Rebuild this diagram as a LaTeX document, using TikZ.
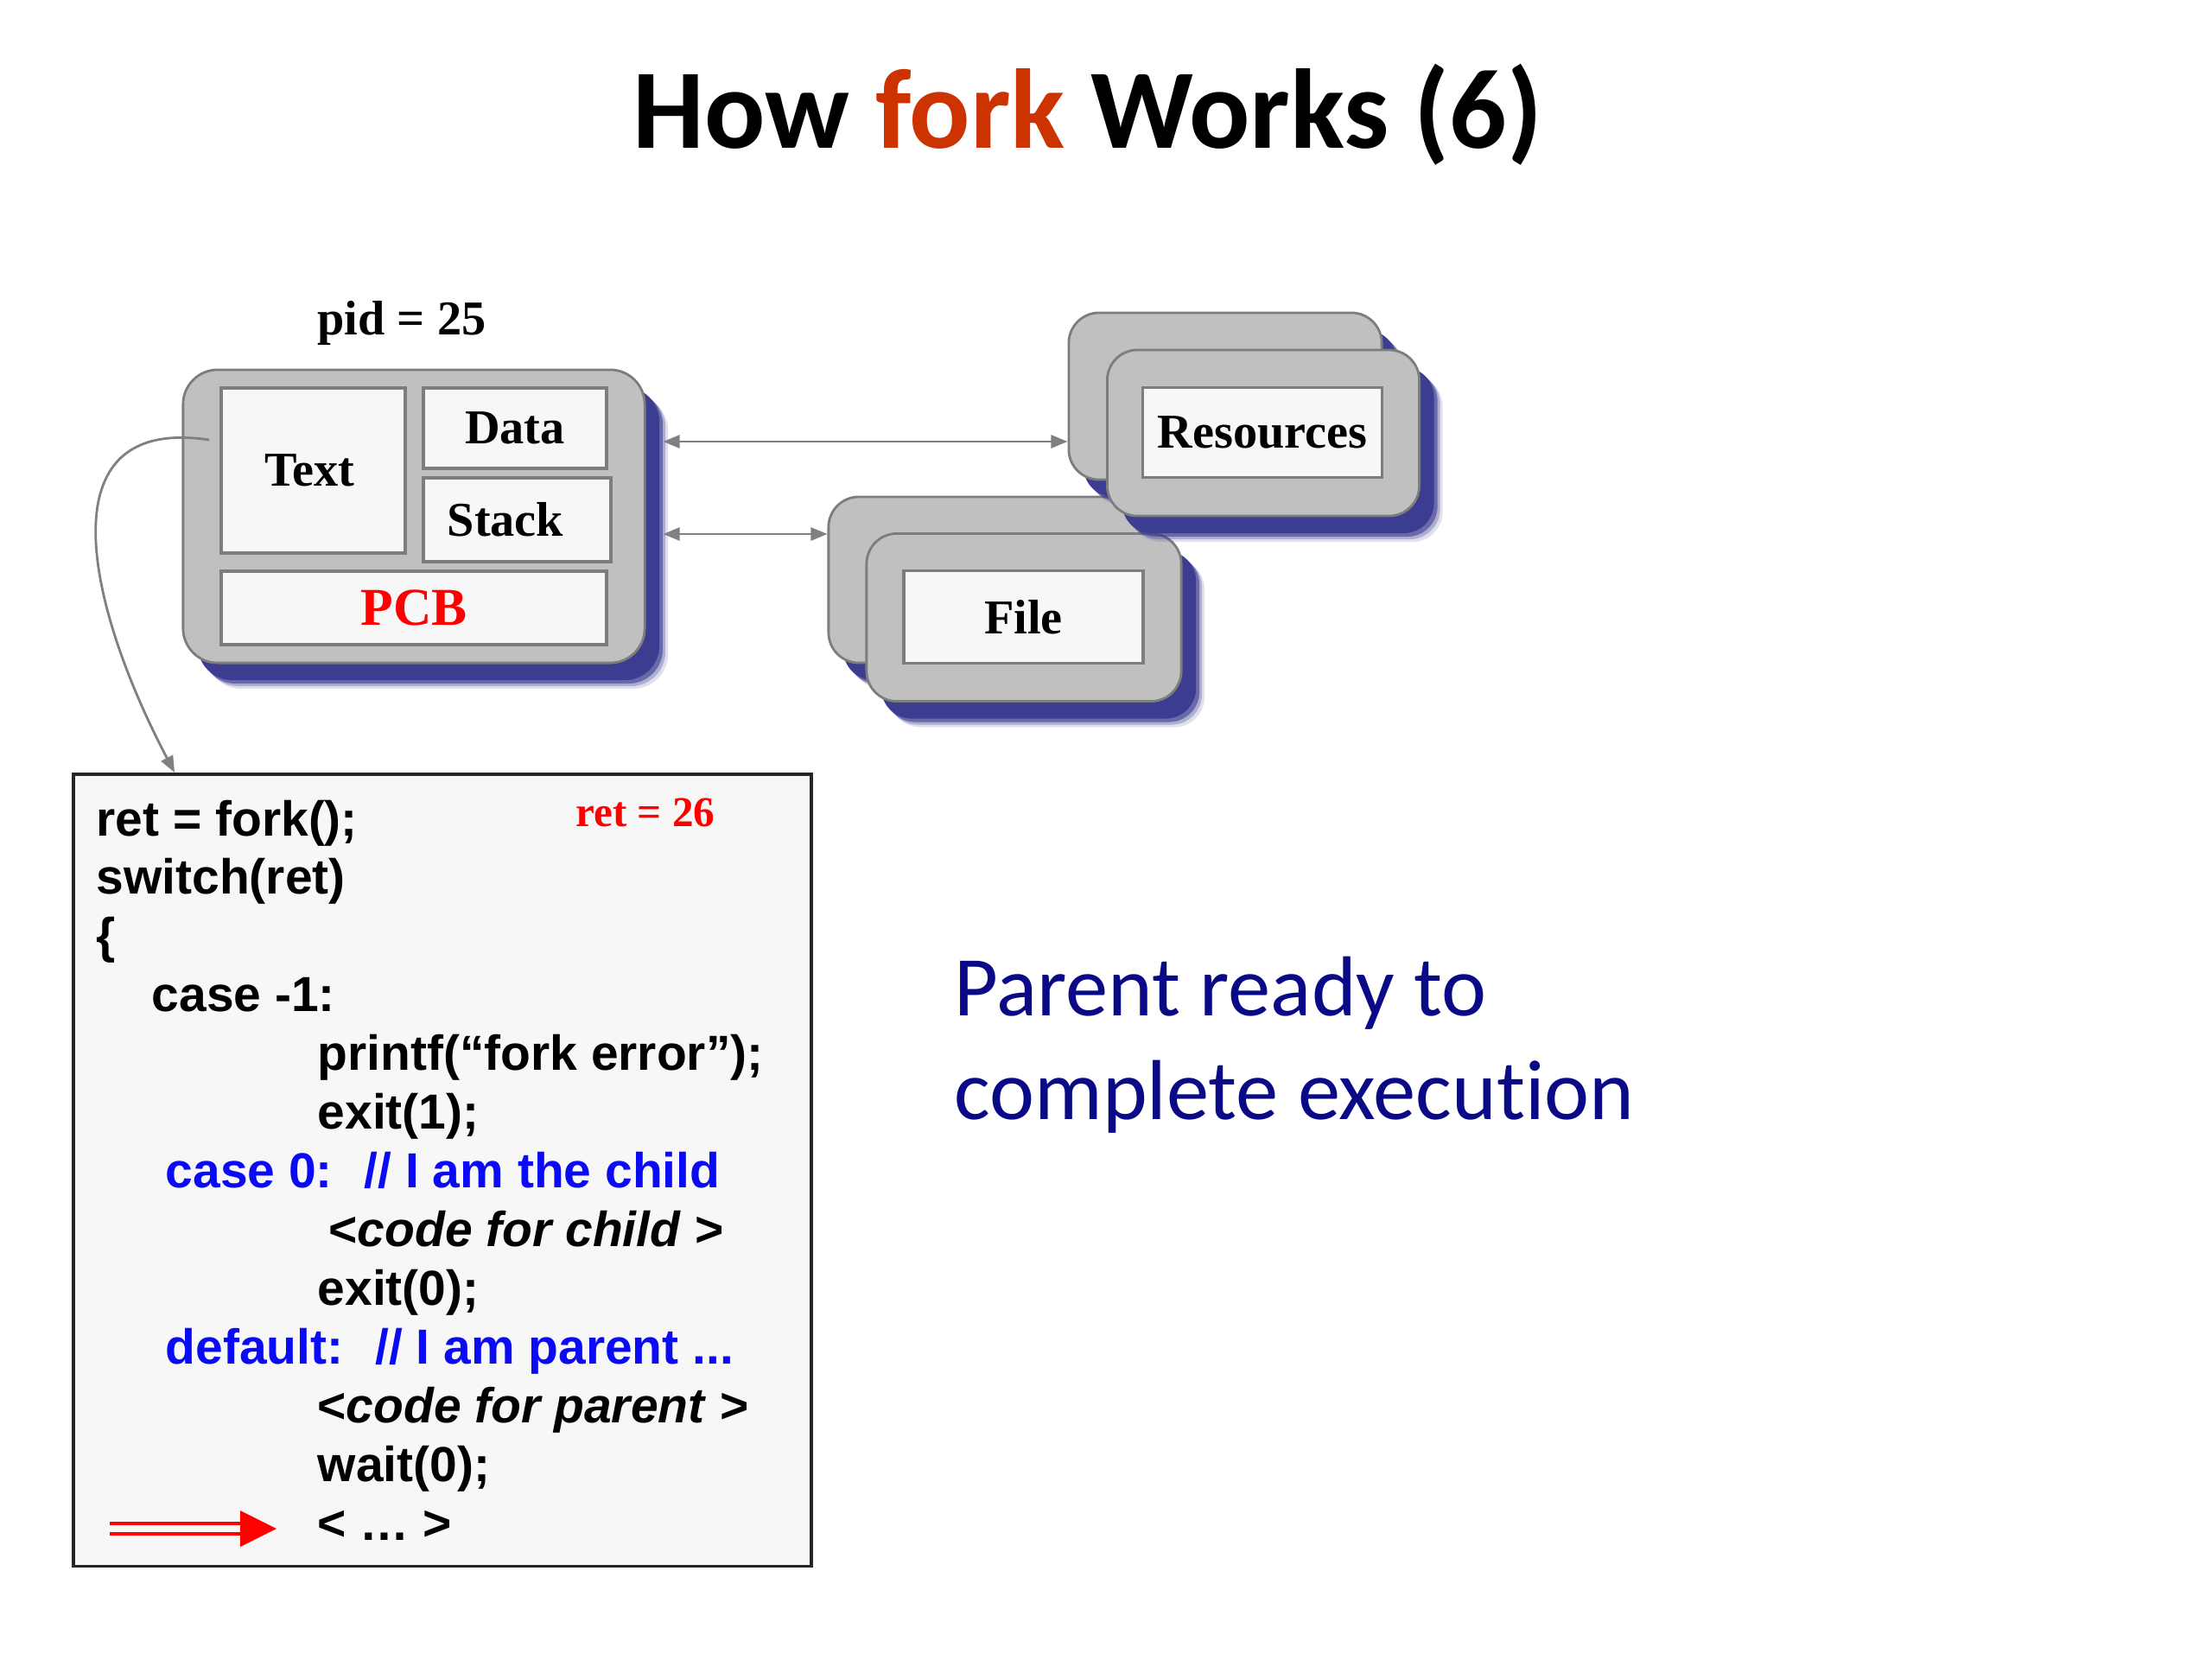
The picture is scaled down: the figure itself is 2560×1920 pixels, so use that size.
\documentclass[tikz,border=0pt]{standalone}
\usepackage{fontspec}
\setmainfont{Liberation Serif}
\newfontfamily\calfont[Ligatures=NoCommon]{Carlito}
\newfontfamily\arfont{Liberation Sans}
\usetikzlibrary{arrows.meta}
\definecolor{forkc}{RGB}{204,51,0}
\definecolor{navyt}{RGB}{10,10,135}
\definecolor{shblue}{RGB}{60,60,145}
\definecolor{boxgray}{RGB}{192,192,192}
\definecolor{edgegray}{RGB}{125,125,125}
\definecolor{paper}{RGB}{247,247,247}
\definecolor{codeblue}{RGB}{10,10,245}
\definecolor{linkgray}{RGB}{128,128,128}
\begin{document}
\begin{tikzpicture}[x=0.01cm,y=-0.01cm,
  shad/.style={preaction={fill=shblue,opacity=0.15,transform canvas={shift={(27,30)}}},
               preaction={fill=shblue,opacity=0.3,transform canvas={shift={(24,27)}}},
               preaction={fill=shblue,opacity=0.6,transform canvas={shift={(21,24)}}},
               preaction={fill=shblue,transform canvas={shift={(17,20)}}}},
  gbox/.style={shad, rectangle, rounded corners=0.35cm, fill=boxgray, draw=edgegray, line width=0.8pt, inner sep=0pt},
  wbox/.style={rectangle, fill=paper, draw=edgegray, line width=1pt, inner sep=0pt, font=\fontsize{16}{19}\selectfont\bfseries},
  link/.style={draw=linkgray, line width=0.7pt, {Triangle[length=0.19cm,width=0.15cm]}-{Triangle[length=0.19cm,width=0.15cm]}},
  codeline/.style={anchor=base west, inner sep=0pt, font=\arfont\fontsize{16.2}{19}\selectfont\bfseries},
]
\fill[white] (0,0) rectangle (2560,1920);
\useasboundingbox (0,0) rectangle (2560,1920);

% title
\node[anchor=base, inner sep=0pt, font=\calfont\bfseries\fontsize{37.3}{44}\selectfont] (title) at (1259,171) {How \textcolor{forkc}{fork} Works (6)};

% process
\node[font=\fontsize{16}{19}\selectfont\bfseries, anchor=base, inner sep=0pt] (pid) at (465,387) {pid = 25};
\node[gbox, rounded corners=0.4cm, minimum width=5.34cm, minimum height=3.39cm] (proc) at (479,597.5) {};
\node[wbox, minimum width=2.13cm, minimum height=1.91cm] (text) at (362.5,544.5) {\kern-0.08cm Text};
\node[wbox, minimum width=2.12cm, minimum height=0.93cm] (data) at (596,495.5) {Data};
\node[wbox, minimum width=2.17cm, minimum height=0.97cm] (stack) at (598.5,601.5) {Stack\kern0.27cm};
\node[wbox, minimum width=4.46cm, minimum height=0.85cm, text=red, font=\fontsize{17.5}{20}\selectfont\bfseries] (pcb) at (479,703.5) {PCB};

% file group
\node[gbox, minimum width=3.61cm, minimum height=1.92cm] (fileback) at (1139.5,671) {};
\node[gbox, minimum width=3.64cm, minimum height=1.94cm] (filefront) at (1185,714.5) {};
\node[wbox, minimum width=2.77cm, minimum height=1.07cm] (file) at (1184.5,714) {File};

% resources group
\node[gbox, minimum width=3.62cm, minimum height=1.93cm] (resback) at (1418,458.5) {};
\node[gbox, minimum width=3.61cm, minimum height=1.92cm] (resfront) at (1462,501) {};
\node[wbox, minimum width=2.77cm, minimum height=1.04cm] (res) at (1461,500.5) {Resources};

% links
\coordinate (ya) at (0,511);
\coordinate (yb) at (0,618);
\draw[link, shorten <=0.2cm] (proc.east |- ya) -- (resback.west |- ya);
\draw[link, shorten <=0.2cm] (proc.east |- yb) -- (fileback.west |- yb);

% code box
\node[draw=black!85, line width=1pt, fill=paper, minimum width=8.54cm, minimum height=9.16cm, inner sep=0pt] (code) at (512,1354) {};

\coordinate (cstart) at (242,509);
\draw[draw=linkgray, line width=0.8pt, -{Triangle[length=0.19cm,width=0.15cm]}] (cstart) .. controls (50,480) and (100,700) .. ([xshift=1.19cm]code.north west);

\node[codeline] (l1) at (111,967) {ret = fork();};
\node[codeline] (l2) at (111,1034) {switch(ret)};
\node[codeline] (l3) at (111,1102) {\{};
\node[codeline] (l4) at (175,1170) {case -1:};
\node[codeline] (l5) at (367,1238) {printf(“fork error”);};
\node[codeline] (l6) at (367,1306) {exit(1);};
\node[codeline, text=codeblue] (l7) at (191,1374) {case 0:~ // I am the child};
\node[codeline] (l8) at (380,1442) {<\textit{code for child} >};
\node[codeline] (l9) at (367,1510) {exit(0);};
\node[codeline, text=codeblue] (l10) at (191,1578) {default:~ // I am parent ...};
\node[codeline] (l11) at (367,1646) {<\textit{code for parent} >};
\node[codeline] (l12) at (367,1714) {wait(0);};
\node[codeline] (l13) at (367,1782) {< … >};

\node[anchor=base, inner sep=0pt, text=red, font=\fontsize{14}{17}\selectfont\bfseries] (retv) at (747,956) {ret = 26};

% red arrow
\coordinate (ra) at (127,1769);
\coordinate (rb) at (320,1769);
\draw[red, line width=1.1pt, double=paper, double distance=2.4pt, shorten >=0.4cm] (ra) -- (rb);
\fill[red] ([xshift=-0.42cm,yshift=0.21cm]rb) -- (rb) -- ([xshift=-0.42cm,yshift=-0.21cm]rb) -- cycle;

% message
\node[anchor=base west, align=left, inner sep=0pt, text=navyt, font=\calfont\fontsize{28}{33.9}\selectfont] (msg) at (1104,1295) {Parent ready to\\complete execution};
\end{tikzpicture}
\end{document}
